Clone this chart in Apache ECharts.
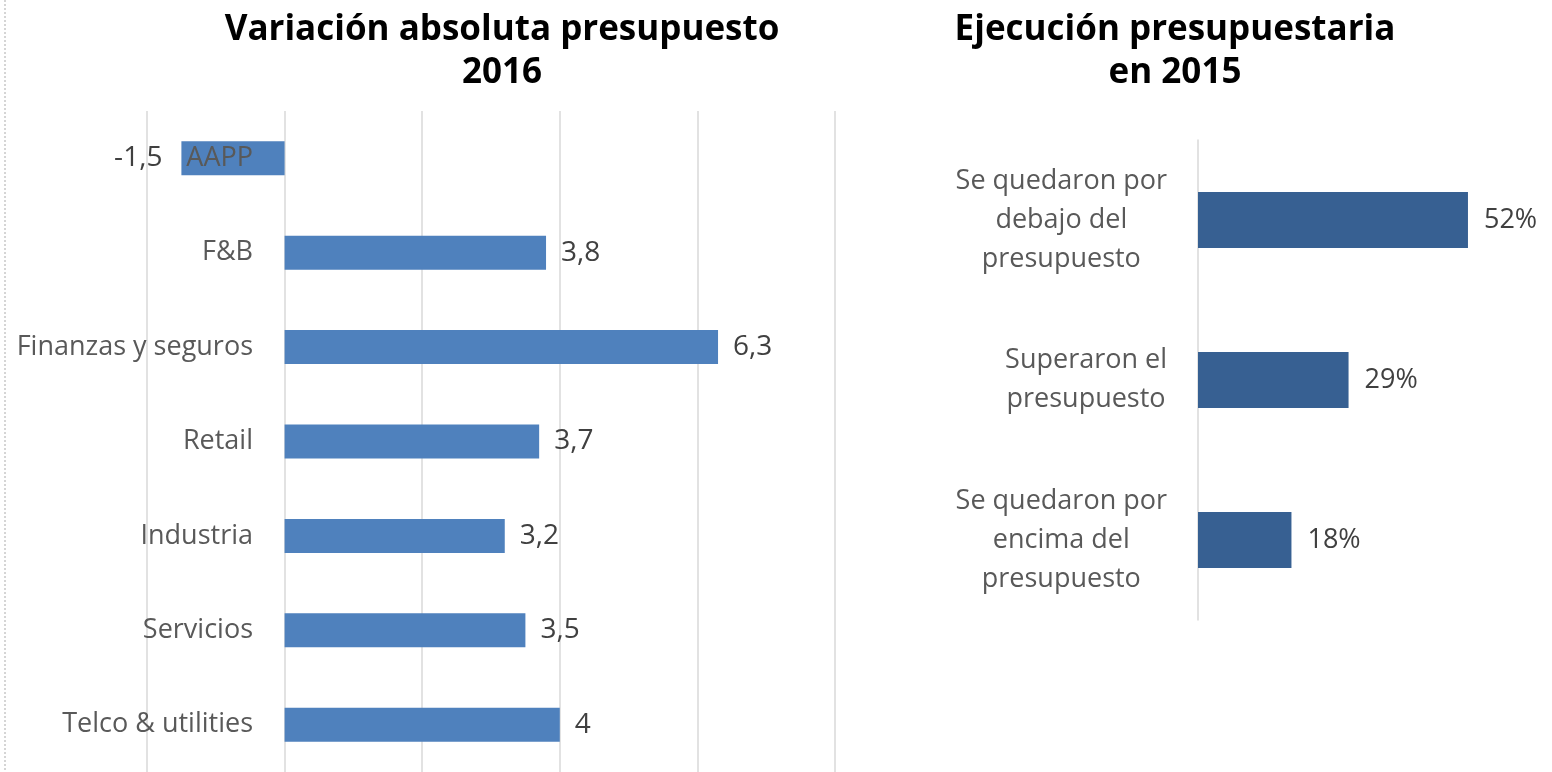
<!DOCTYPE html>
<html>
<head>
<meta charset="utf-8">
<script src="https://cdn.jsdelivr.net/npm/echarts@6/dist/echarts.min.js"></script>
<style>
    html, body { margin: 0; padding: 0; background: #fff; }
    #chart { width: 1552px; height: 772px; }
</style>
</head>
<body>
<div id="chart"></div>
<script>
// Left chart: variación absoluta presupuesto 2016
const sectores = ["AAPP", "F&B", "Finanzas y seguros", "Retail", "Industria", "Servicios", "Telco & utilities"];
const variacion = [-1.5, 3.8, 6.3, 3.7, 3.2, 3.5, 4];

// Right chart: ejecución presupuestaria en 2015
const ejecucionCats = ["Se quedaron por\ndebajo del\npresupuesto", "Superaron el\npresupuesto", "Se quedaron por\nencima del\npresupuesto"];
const ejecucion = [52, 29, 18];

const FONT = "Open Sans";

const chart = echarts.init(document.getElementById("chart"), null, { renderer: "canvas" });

chart.setOption({
    animation: false,
    textStyle: { fontFamily: FONT },
    title: [
        {
            text: "Variación absoluta presupuesto\n2016",
            left: 497, top: 4, textAlign: "center",
            textStyle: { fontFamily: FONT, fontSize: 35, fontWeight: "bold", color: "#000", lineHeight: 43 }
        },
        {
            text: "Ejecución presupuestaria\nen 2015",
            left: 1170, top: 4, textAlign: "center",
            textStyle: { fontFamily: FONT, fontSize: 35, fontWeight: "bold", color: "#000", lineHeight: 43 }
        }
    ],
    grid: [
        { left: 147, top: 111, width: 688, height: 665 },
        { left: 1198, top: 140, width: 311.5, height: 480 }
    ],
    xAxis: [
        {
            gridIndex: 0, type: "value", min: -2, max: 8, interval: 2,
            axisLabel: { show: false }, axisLine: { show: false }, axisTick: { show: false },
            splitLine: { lineStyle: { color: "#d9d9d9", width: 1.5 } }
        },
        {
            gridIndex: 1, type: "value", min: 0, max: 60,
            axisLabel: { show: false }, axisLine: { show: false }, axisTick: { show: false },
            splitLine: { show: false }
        }
    ],
    yAxis: [
        {
            gridIndex: 0, type: "category", data: sectores, inverse: true, z: 5,
            axisLine: { show: false, onZero: false }, axisTick: { show: false },
            axisLabel: { margin: -106, align: "right", fontSize: 27, color: "#595959" }
        },
        {
            gridIndex: 1, type: "category", data: ejecucionCats, inverse: true,
            axisLine: { lineStyle: { color: "#d9d9d9", width: 1.5 } }, axisTick: { show: false },
            axisLabel: {
                margin: 31, align: "right", fontSize: 27, color: "#595959",
                formatter: v => v.split("\n").map(l => "{c|" + l + "}").join("\n"),
                rich: { c: { align: "center", fontSize: 27, lineHeight: 39, color: "#595959", fontFamily: FONT } }
            }
        }
    ],
    series: [
        {
            type: "bar", xAxisIndex: 0, yAxisIndex: 0, barWidth: 34,
            itemStyle: { color: "#4f81bd" },
            data: variacion.map(v => v < 0
                ? { value: v, label: { position: "left", distance: 19 } }
                : v),
            label: {
                show: true, position: "right", distance: 15,
                fontSize: 28, color: "#404040",
                formatter: p => String(p.value).replace(".", ",")
            }
        },
        {
            type: "bar", xAxisIndex: 1, yAxisIndex: 1, barWidth: 56,
            itemStyle: { color: "#376092" },
            data: ejecucion,
            label: {
                show: true, position: "right", distance: 16,
                fontSize: 27, color: "#404040",
                formatter: p => p.value + "%"
            }
        }
    ],
    graphic: [
        {
            type: "line", silent: true,
            shape: { x1: 5, y1: 0, x2: 5, y2: 772 },
            style: { stroke: "#c8c8c8", lineWidth: 1.5, lineDash: [2, 2] }
        }
    ]
});
</script>
</body>
</html>
